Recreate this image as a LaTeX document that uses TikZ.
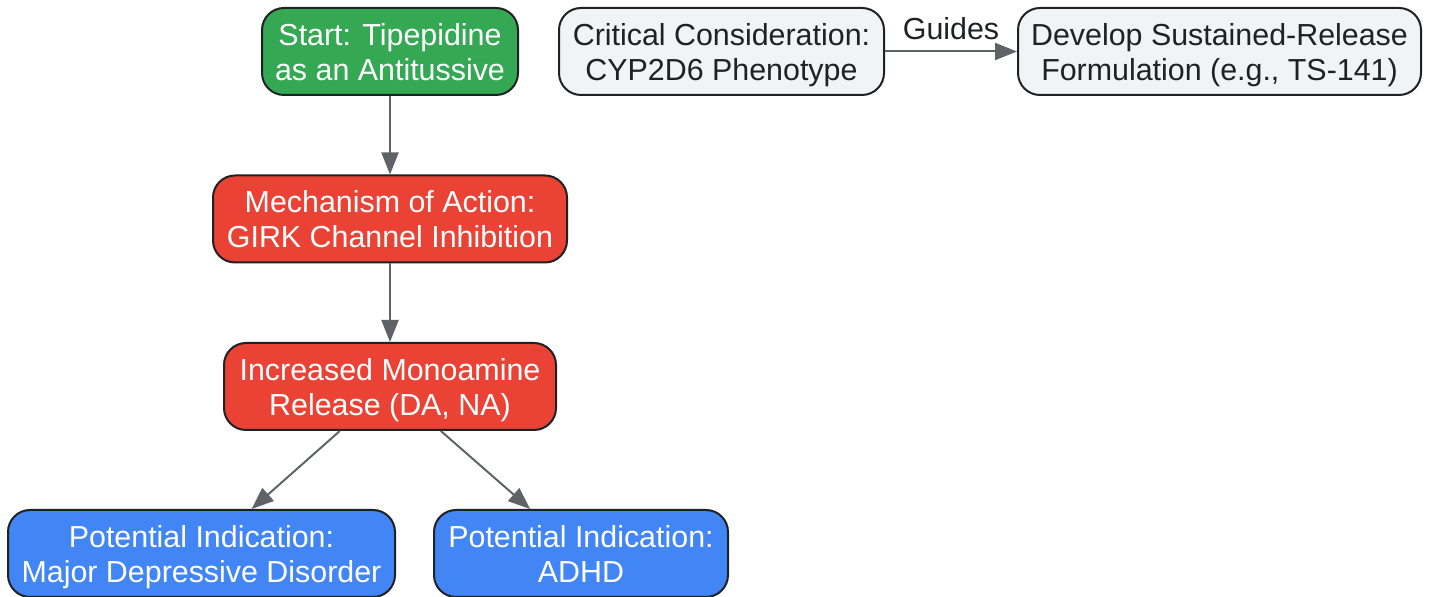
\documentclass[tikz,border=0pt]{standalone}
\usepackage{fontspec}
\setmainfont{Liberation Sans}
\usetikzlibrary{arrows.meta}

\definecolor{startgreen}{HTML}{34A853}
\definecolor{mechred}{HTML}{EA4335}
\definecolor{indblue}{HTML}{4285F4}
\definecolor{notegray}{HTML}{F1F3F4}
\definecolor{inkdark}{HTML}{202124}
\definecolor{edgegray}{HTML}{5F6368}

\begin{document}
\begin{tikzpicture}[x=0.5pt, y=-0.5pt, >={Triangle[length=11pt,width=8.5pt]},
    box/.style={rectangle, rounded corners=11pt, draw=inkdark, line width=1pt,
        align=center, inner sep=0pt, minimum height=43.5pt,
        font=\fontsize{15.2}{17.5}\selectfont,
        text height=28.8pt, text depth=0pt},
    green/.style={box, fill=startgreen, text=white},
    red/.style={box, fill=mechred, text=white},
    blue/.style={box, fill=indblue, text=white},
    gray/.style={box, fill=notegray, text=inkdark},
    link/.style={->, draw=edgegray, line width=1pt}]

        \useasboundingbox (0,0) rectangle (1430,597);

        \node[green, minimum width=128pt] (start) at (390,51.5) {Start: Tipepidine\\as an Antitussive};
        \node[red, minimum width=177pt] (mech) at (390,219) {Mechanism of Action:\\GIRK Channel Inhibition};
        \node[red, minimum width=166pt] (mono) at (390,386.5) {Increased Monoamine\\Release (DA, NA)};

        \node[blue, minimum width=193.5pt] (mdd) at (201.5,553.5) {Potential Indication:\\Major Depressive Disorder};
        \node[blue, minimum width=147pt] (adhd) at (581,553.5) {Potential Indication:\\ADHD};

        \node[gray, minimum width=162.5pt] (cyp) at (721.5,51.5) {Critical Consideration:\\CYP2D6 Phenotype};
        \node[gray, minimum width=201.5pt] (sr) at (1219.5,51.5) {Develop Sustained-Release\\Formulation (e.g., TS-141)};

        \draw[link] (start) -- (mech);
        \draw[link] (mech) -- (mono);

        \draw[link] (mono) -- (mdd);
        \draw[link] (mono) -- (adhd);

        \draw[link] (cyp) -- (sr) node[midway, above=2pt, text=inkdark, font=\fontsize{15.2}{17.5}\selectfont] {Guides};

    \end{tikzpicture}
\end{document}
